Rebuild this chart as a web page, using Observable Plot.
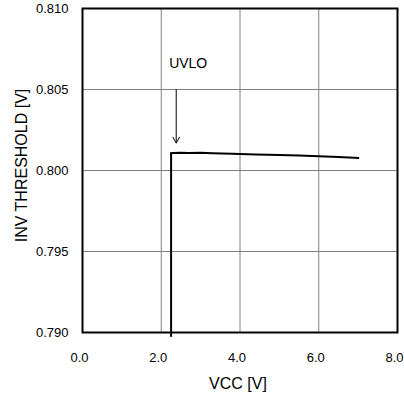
<!DOCTYPE html>
<html><head><meta charset="utf-8">
<script src="https://cdn.jsdelivr.net/npm/d3@7"></script>
<script src="https://cdn.jsdelivr.net/npm/@observablehq/plot@0.6"></script>
<style>body{margin:0;background:#fff;font-family:"Liberation Sans",Arial,sans-serif}</style>
</head><body><div id="chart"></div>
<script>
const vcc = [2.25, 2.25, 2.3, 2.5, 2.7, 3.0, 3.3, 3.8, 4.4, 5.0, 5.5, 6.0, 6.5, 7.0];
const invThreshold = [0.7897, 0.80107, 0.80108, 0.80110, 0.80108, 0.80110, 0.80107, 0.80104, 0.80099, 0.80096, 0.80092, 0.80088, 0.80083, 0.80078];
const xTicks = [0, 2, 4, 6, 8];
const yTicks = [0.790, 0.795, 0.800, 0.805, 0.810];
const annotation = ["UVLO"];
const annoX = [2.2];
const annoY = [0.8066];
const arrowX = [2.38];
const arrowY1 = [0.805];
const arrowY2 = [0.8017];

const data = vcc.map((x, i) => ({x, y: invThreshold[i]}));
const chart = Plot.plot({
  width: 404, height: 397,
  marginLeft: 82, marginRight: 7, marginTop: 8, marginBottom: 65,
  style: {fontFamily: '"Liberation Sans", Arial, sans-serif', fontSize: "13px", color: "#000", background: "#fff"},
  x: {domain: [0, 8]},
  y: {domain: [0.790, 0.810]},
  marks: [
    Plot.gridX(xTicks.slice(1, -1), {stroke: "#808080", strokeOpacity: 1, strokeWidth: 1}),
    Plot.gridY(yTicks.slice(1, -1), {stroke: "#808080", strokeOpacity: 1, strokeWidth: 1}),
    Plot.axisX(xTicks, {tickSize: 0, tickPadding: 20, dx: -3, tickFormat: d3.format(".1f"), label: null, fontSize: 13}),
    Plot.axisY(yTicks, {tickSize: 0, tickPadding: 14, tickFormat: d3.format(".3f"), label: null, fontSize: 13}),
    Plot.text(["VCC [V]"], {frameAnchor: "bottom", dx: -2, dy: 56, fontSize: 16}),
    Plot.text(["INV THRESHOLD [V]"], {frameAnchor: "left", textAnchor: "middle", dx: -61, dy: -5, rotate: -90, fontSize: 16}),
    Plot.frame({stroke: "#000", strokeWidth: 2}),
    Plot.ruleX([vcc[0]], {y1: invThreshold[0], y2: invThreshold[1], stroke: "#000", strokeWidth: 2}),
    Plot.line(data.slice(1), {x: "x", y: "y", stroke: "#000", strokeWidth: 2, strokeLinecap: "square"}),
    Plot.arrow(arrowX, {x1: d => d, x2: d => d, y1: (d, i) => arrowY1[i], y2: (d, i) => arrowY2[i], stroke: "#000", strokeWidth: 1, headLength: 10, bend: 0}),
    Plot.text(annotation, {x: (d, i) => annoX[i], y: (d, i) => annoY[i], text: d => d, textAnchor: "start", fontSize: 14})
  ]
});
document.getElementById("chart").append(chart);
</script>
</body></html>
